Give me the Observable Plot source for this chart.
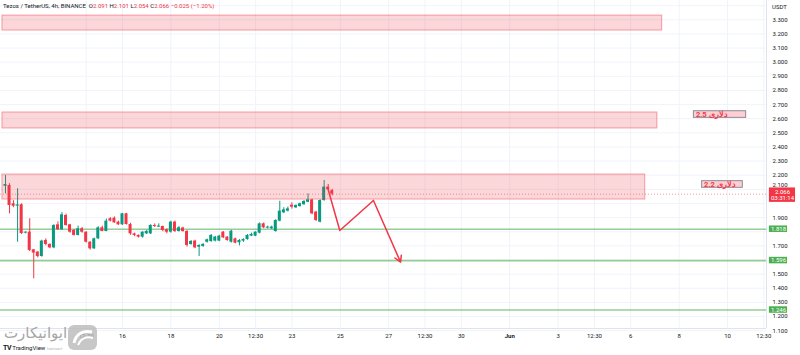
<!DOCTYPE html>
<html><head><meta charset="utf-8">
<script src="https://cdn.jsdelivr.net/npm/d3@7"></script>
<script src="https://cdn.jsdelivr.net/npm/@observablehq/plot@0.6"></script>
<style>
html,body{margin:0;padding:0;background:#fff;}
#wrap{position:relative;width:800px;height:355px;overflow:hidden;font-family:Roboto,"Liberation Sans",sans-serif;}
#title{position:absolute;left:3px;top:2px;font-size:6px;color:#131722;white-space:pre;}
#title .r{color:#f23645}
#usdt{position:absolute;left:772px;top:3px;font-size:6px;color:#131722}
#wm{position:absolute;left:4px;top:322px;font-size:15px;color:#a6a6a6;font-family:"Noto Sans","DejaVu Sans",sans-serif;direction:rtl}
#icon{position:absolute;left:67px;top:322px}
#tv{position:absolute;left:3px;top:344px;font-size:6px;color:#131722}
#tv b{font-size:7px;letter-spacing:-0.5px}
#tv span{color:#b2b5be;font-size:4px}
</style></head><body>
<div id="wrap"></div>
<script>
// ---- data ----
const candleStart = 11 + 4/24;   // first 4h candle: May 11, 04:00 (day-of-May units)
const candleStep = 4/24;         // 4 hours
const opens  = [2.122,2.127,1.998,1.981,1.991,1.790,1.797,1.672,1.656,1.625,1.738,1.710,1.686,1.849,1.814,1.915,1.849,1.809,1.774,1.821,1.797,1.726,1.679,1.750,1.828,1.802,1.892,1.896,1.868,1.849,1.927,1.851,1.785,1.774,1.762,1.785,1.785,1.844,1.833,1.837,1.814,1.797,1.868,
  1.802,1.826,1.802,1.710,1.734,1.691,1.696,1.726,1.731,1.734,1.734,1.797,1.762,1.726,1.750,1.722,1.734,1.745,1.769,1.769,1.790,1.856,1.826,1.821,1.802,1.875,1.934,1.946,1.988,1.969,1.978,1.991,2.009,2.026,1.939,1.868,2.021,2.116,2.091];
const highs  = [2.198,2.140,2.020,2.104,1.998,1.800,1.892,1.675,1.660,1.740,1.750,1.715,1.850,1.870,1.935,1.925,1.853,1.815,1.840,1.830,1.800,1.730,1.755,1.835,1.840,1.890,1.900,1.905,1.875,1.930,1.930,1.860,1.790,1.778,1.800,1.810,1.850,1.855,1.856,1.840,1.820,1.875,1.875,
  1.838,1.832,1.809,1.738,1.740,1.708,1.716,1.748,1.780,1.768,1.775,1.802,1.766,1.810,1.755,1.745,1.750,1.780,1.790,1.800,1.862,1.862,1.840,1.840,1.885,2.016,1.970,1.975,2.005,1.990,2.003,2.020,2.068,2.030,1.945,2.026,2.163,2.135,2.101];
const lows   = [2.068,1.927,1.970,1.726,1.780,1.785,1.660,1.467,1.615,1.620,1.700,1.680,1.680,1.810,1.810,1.840,1.790,1.770,1.770,1.790,1.720,1.670,1.675,1.745,1.800,1.800,1.870,1.860,1.845,1.845,1.848,1.775,1.765,1.755,1.755,1.780,1.780,1.830,1.830,1.800,1.785,1.790,1.795,
  1.798,1.797,1.691,1.705,1.680,1.625,1.690,1.720,1.725,1.728,1.730,1.752,1.733,1.720,1.715,1.700,1.725,1.740,1.765,1.765,1.785,1.822,1.820,1.815,1.797,1.870,1.928,1.940,1.960,1.965,1.975,1.988,2.005,1.920,1.872,1.863,2.016,2.090,2.054];
const closes = [2.134,1.986,1.981,1.990,1.787,1.797,1.668,1.649,1.625,1.734,1.710,1.686,1.844,1.814,1.920,1.844,1.797,1.774,1.821,1.797,1.726,1.679,1.750,1.828,1.802,1.875,1.875,1.863,1.849,1.927,1.851,1.785,1.774,1.762,1.797,1.802,1.844,1.837,1.840,1.809,1.797,1.868,1.802,
  1.828,1.802,1.703,1.731,1.686,1.703,1.710,1.743,1.774,1.762,1.769,1.757,1.738,1.804,1.719,1.738,1.745,1.774,1.781,1.797,1.856,1.828,1.833,1.833,1.880,1.946,1.955,1.962,1.974,1.986,1.998,2.014,2.026,1.927,1.880,2.021,2.116,2.097,2.066];

// resistance zones (red rectangles): start/end day, low/high price
const zoneStart = [11.04, 11.04, 11.04];
const zoneEnd   = [38.30, 38.10, 37.60];
const zoneLow   = [3.224, 2.531, 2.028];
const zoneHigh  = [3.330, 2.644, 2.205];

// note boxes
const noteText  = ["2.5 دلاری", "2.2 دلاری"];
const noteStart = [39.61, 39.95];
const noteEnd   = [41.77, 41.63];
const noteLow   = [2.606, 2.111];
const noteHigh  = [2.653, 2.158];

// support lines (green)
const supports = [1.818, 1.596, 1.246];

// projected path (red arrow)
const pathX = [24.50, 24.98, 26.37, 27.49];
const pathY = [2.097, 1.809, 2.021, 1.585];

// last price
const lastPrice = 2.066;
const countdown = "03:31:14";

// axes
const yTicks = [3.3,3.2,3.1,3.0,2.9,2.8,2.7,2.6,2.5,2.4,2.3,2.2,1.9,1.7,1.5,1.4,1.3,1.2,1.1];
const yTickNearLast = [2.1];
const yGrid  = [3.4,3.3,3.2,3.1,3.0,2.9,2.8,2.7,2.6,2.5,2.4,2.3,2.2,2.1,2.0,1.9,1.8,1.7,1.6,1.5,1.4,1.3,1.2,1.1];
const xTicks = [14.5,16,18,20,21.5,23,25,27,28.5,30,32,34,35.5,37,39,41,42.5];
const xTickLabels = ["12:30","16","18","20","12:30","23","25","27","12:30","30","Jun","3","12:30","6","8","10","12:30"];

// ---- build ----
const candles = opens.map((o,i)=>({t: candleStart + i*candleStep, o, h: highs[i], l: lows[i], c: closes[i]}));
const zones = zoneStart.map((s,i)=>({x1:s, x2:zoneEnd[i], y1:zoneLow[i], y2:zoneHigh[i]}));
const notes = noteText.map((t,i)=>({text:t, x1:noteStart[i], x2:noteEnd[i], y1:noteLow[i], y2:noteHigh[i]}));
const path = pathX.map((x,i)=>({x, y:pathY[i]}));
const xLabel = new Map(xTicks.map((t,i)=>[t, xTickLabels[i]]));

const UP="#089981", DOWN="#f23645";
const xDom=[10.96, 42.61], yDom=[1.1153, 3.4366];
const xR = xDom[1];
const fmt = d3.format(".3f");

const plot = Plot.plot({
  width: 800, height: 355,
  marginLeft: 0, marginRight: 34, marginTop: 0, marginBottom: 27,
  style: {fontFamily: "Roboto, 'Liberation Sans', sans-serif", fontSize: "6px", color: "#131722", background: "transparent"},
  x: {type: "linear", domain: xDom},
  y: {type: "linear", domain: yDom},
  marks: [
    Plot.gridY(yGrid, {stroke: "#f0f3fa", strokeOpacity: 1}),
    Plot.gridX(xTicks, {stroke: "#f0f3fa", strokeOpacity: 1}),
    Plot.ruleX([xR], {stroke: "#e0e3eb"}),
    Plot.ruleY([yDom[0]], {stroke: "#e0e3eb"}),
    Plot.ruleY(supports, {stroke: "#4caf50", strokeOpacity: 0.6, strokeWidth: 1.6}),
    Plot.ruleX(candles, {x: "t", y1: "l", y2: "h", stroke: d => d.c >= d.o ? UP : DOWN, strokeWidth: 1}),
    Plot.rect(candles, {x1: d => d.t - 0.062, x2: d => d.t + 0.062, y1: "o", y2: "c", fill: d => d.c >= d.o ? UP : DOWN}),
    Plot.rect(zones, {x1:"x1", x2:"x2", y1:"y1", y2:"y2", fill: "#f23645", fillOpacity: 0.2, stroke: "#f23645", strokeOpacity: 0.45, strokeWidth: 1}),
    Plot.ruleY([lastPrice], {stroke: DOWN, strokeOpacity: 0.5, strokeDasharray: "1,2"}),
    Plot.line(path.slice(0,3), {x:"x", y:"y", stroke: DOWN, strokeWidth: 1.5}),
    Plot.arrow([path[2]], {x1:"x", y1:"y", x2: () => path[3].x, y2: () => path[3].y, stroke: DOWN, strokeWidth: 1.5, headLength: 7, insetEnd: 0, insetStart: 0}),
    Plot.rect(notes, {x1:"x1", x2:"x2", y1:"y1", y2:"y2", fill: "#ffcdd2", stroke: "#8a8d96", strokeWidth: 1}),
    Plot.text(notes, {x:"x1", y: d => (d.y1+d.y2)/2, text:"text", textAnchor:"start", dx: 2, fill: DOWN, fontWeight: "bold", fontSize: 7.5}),
    Plot.axisY({anchor: "right", ticks: yTicks, tickFormat: fmt, tickSize: 0, tickPadding: 6, fontSize: 6, label: null, fill: "#131722"}),
    Plot.axisY({anchor: "right", ticks: yTickNearLast, tickFormat: fmt, tickSize: 0, tickPadding: 6, fontSize: 6, label: null, fill: "#131722", dy: -4.5}),
    Plot.axisX({ticks: xTicks.filter(t => t !== 32), tickFormat: t => xLabel.get(t), tickSize: 0, tickPadding: 5, fontSize: 6, label: null, fill: "#131722"}),
    Plot.axisX({ticks: [32], tickFormat: t => xLabel.get(t), tickSize: 0, tickPadding: 5, fontSize: 6, fontWeight: "bold", label: null, fill: "#131722"}),
    // axis price labels
    Plot.rect(supports, {x1: () => xR + 0.12, x2: () => xR + 0.87, y1: d => d - 0.023, y2: d => d + 0.023, fill: "#4caf50"}),
    Plot.text(supports, {x: () => xR, y: d => d, text: d => fmt(d), dx: 12, fill: "white", fontSize: 6}),
    Plot.rect([lastPrice], {x1: () => xR + 0.12, x2: () => xR + 1.2, y1: d => d - 0.058, y2: d => d + 0.044, fill: DOWN}),
    Plot.text([lastPrice], {x: () => xR, y: d => d, text: d => fmt(d) + "\n" + countdown, dx: 16, dy: 0.5, lineHeight: 1.05, fill: "white", fontSize: 6})
  ]
});

const wrap = document.getElementById("wrap");
wrap.appendChild(plot);
wrap.insertAdjacentHTML("beforeend",
  `<div id="title">Tezos / TetherUS, 4h, BINANCE  O<span class="r">2.091</span> H<span class="r">2.101</span> L<span class="r">2.054</span> C<span class="r">2.066</span> <span class="r">−0.025 (−1.20%)</span></div>
   <div id="usdt">USDT</div>
   <div id="wm">ایوانیکارت</div>
   <svg id="icon" width="32" height="31" viewBox="0 0 32 31"><rect x="1" y="3" width="29" height="25" rx="6" fill="#b9b9b9" opacity="0.8"/><path d="M7 21 C9 11 17 8 25 10" stroke="#fff" stroke-width="3" fill="none"/><path d="M11 23 C14 16 20 14 26 16" stroke="#fff" stroke-width="2" fill="none"/></svg>
   <div id="tv"><b>TV</b> TradingView <span>Ivanicart</span></div>`);
</script>
</body></html>
